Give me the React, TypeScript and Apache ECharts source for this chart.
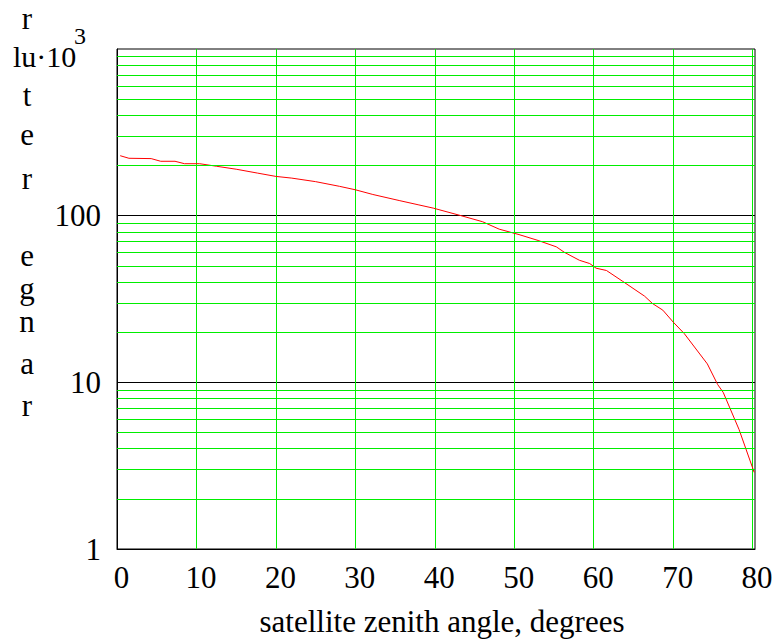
import React, { useEffect, useRef } from 'react';
import * as echarts from 'echarts';

// satellite zenith angle, degrees
const angleDeg = [0.4, 1.5, 4.3, 5.5, 7.3, 8.5, 10.4, 12.5, 15, 17.7, 20, 22, 25, 28, 30, 32.2, 35.6, 38, 39.8, 43.3, 46, 48.1, 50.6, 53, 55.3, 56.3, 58.2, 59.5, 60.3, 61.6, 63.6, 66.4, 67.4, 68.7, 70, 71.4, 74.3, 75.6, 76.3, 78.3, 80.2];
// range (log scale)
const rangeVal = [229, 221, 220, 212, 212, 205, 205, 198, 190, 180, 172, 168, 160, 150, 143, 134, 123, 116, 111, 100, 92, 83, 77, 71, 65, 60.3, 54, 51.6, 48.4, 46.9, 40.5, 32.9, 29.7, 27.1, 23, 19.6, 12.9, 9.7, 8.7, 5.2, 2.88];

const minorGridValues = [2, 3, 4, 5, 6, 7, 8, 9, 20, 30, 40, 50, 60, 70, 80, 90, 200, 300, 400, 500, 600, 700, 800, 900];

const yTitleLetters = [
  { t: 'r', y: 18 },
  { t: 't', y: 95 },
  { t: 'e', y: 134 },
  { t: 'r', y: 178 },
  { t: 'e', y: 255 },
  { t: 'g', y: 288 },
  { t: 'n', y: 321 },
  { t: 'a', y: 363 },
  { t: 'r', y: 405 },
];

const FONT = '"Liberation Serif", "Times New Roman", serif';

export default function App() {
  const ref = useRef<HTMLDivElement>(null);
  useEffect(() => {
    if (!ref.current) return;
    const chart = echarts.init(ref.current, undefined, { renderer: 'svg' });
    const txt = (text: string, x: number, y: number, size: number, align: string, lh?: number) => ({
      type: 'text',
      x,
      y,
      silent: true,
      style: {
        text,
        fill: '#000',
        fontSize: size,
        fontFamily: FONT,
        lineHeight: lh ?? size,
        align,
        verticalAlign: 'middle',
        textAlign: align,
        textVerticalAlign: 'middle',
      },
    });
    chart.setOption({
      animation: false,
      backgroundColor: '#fff',
      grid: {
        left: 117,
        top: 49,
        right: 29,
        bottom: 92,
        show: true,
        borderColor: '#000',
        borderWidth: 1,
        backgroundColor: 'transparent',
      },
      xAxis: {
        type: 'value',
        min: 0,
        max: 80.3,
        interval: 10,
        axisLine: { show: true, onZero: false, lineStyle: { color: '#000', width: 1 } },
        axisTick: { show: false },
        axisLabel: {
          color: '#000',
          fontSize: 31,
          fontFamily: FONT,
          margin: 13,
          padding: [0, 0, 0, 9],
          formatter: (v: number) => (Math.abs(v % 10) < 1e-6 ? String(v) : ''),
        },
        splitLine: {
          show: true,
          showMinLine: false,
          showMaxLine: false,
          lineStyle: { color: '#00ee00', width: 1 },
        },
        name: 'satellite zenith angle, degrees',
        nameLocation: 'middle',
        nameGap: 57,
        nameTextStyle: { color: '#000', fontSize: 31, fontFamily: FONT, padding: [0, 0, 0, 12] },
      },
      yAxis: {
        type: 'log',
        logBase: 10,
        min: 1,
        max: 1000,
        axisLine: { show: true, lineStyle: { color: '#000', width: 1 } },
        axisTick: { show: false },
        axisLabel: {
          color: '#000',
          fontSize: 31,
          fontFamily: FONT,
          margin: 16,
          padding: [11, 0, 0, 0],
          formatter: (v: number) => (v >= 1000 ? '' : String(Math.round(v))),
        },
        splitLine: {
          show: true,
          showMinLine: false,
          showMaxLine: false,
          lineStyle: { color: '#000', width: 1 },
        },
      },
      series: [
        {
          type: 'line',
          data: [],
          z: 1,
          silent: true,
          markLine: {
            silent: true,
            symbol: 'none',
            animation: false,
            label: { show: false },
            lineStyle: { color: '#00ee00', width: 1, type: 'solid' },
            emphasis: { disabled: true },
            data: minorGridValues.map((v) => ({ yAxis: v })),
          },
        },
        {
          type: 'line',
          z: 3,
          data: angleDeg.map((a, i) => [a, rangeVal[i]]),
          symbol: 'none',
          smooth: false,
          lineStyle: { color: '#ff0000', width: 1 },
          silent: true,
        },
      ],
      graphic: [
        ...yTitleLetters.map((l) => txt(l.t, 27, l.y, 31, 'center', 26)),
        txt('lu·10', 13, 56, 30, 'left'),
        txt('3', 74, 36, 24, 'left'),
      ],
    });
    return () => chart.dispose();
  }, []);
  return (
    <div
      ref={ref}
      style={{ position: 'fixed', left: 0, top: 0, width: 784, height: 642, background: '#fff' }}
    />
  );
}
